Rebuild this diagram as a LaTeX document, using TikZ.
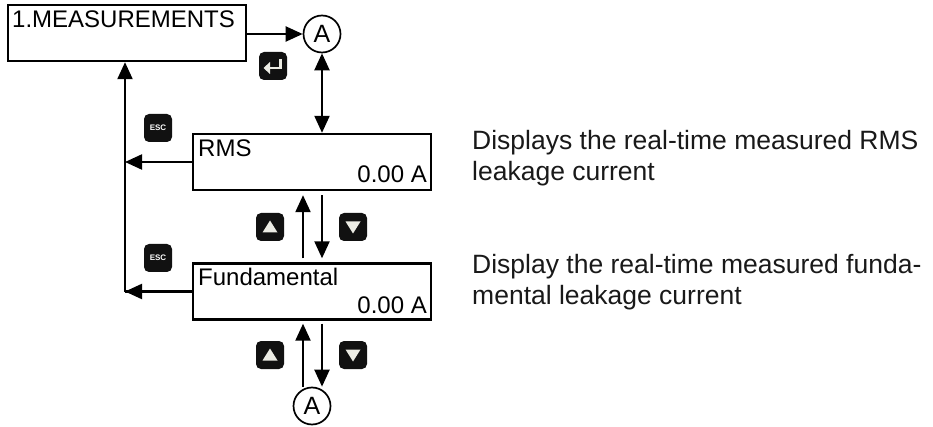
\documentclass[tikz,border=0pt]{standalone}
\usepackage{fontspec}
\setmainfont{Liberation Sans}
\usetikzlibrary{arrows.meta}
\definecolor{glyph}{HTML}{ECECE4}
\definecolor{keycap}{HTML}{111111}
\begin{document}
\begin{tikzpicture}[x=1pt,y=-1pt,
  lcd/.style={draw,line width=2.4pt,minimum width=238pt,minimum height=56pt,inner sep=0pt},
  lcdtext/.style={inner sep=0pt,font=\fontsize{24}{24}\selectfont},
  desc/.style={inner sep=0pt,anchor=base west,font=\fontsize{26.5}{30}\selectfont,text=black!90},
  loopmark/.style={draw,circle,line width=1.7pt,minimum size=37pt,inner sep=0pt,font=\fontsize{25}{25}\selectfont},
  arr/.style={line width=2.2pt,-{Triangle[length=17pt,width=15pt]}},
  arrboth/.style={line width=2.2pt,{Triangle[length=17pt,width=15pt]}-{Triangle[length=17pt,width=15pt]}},
  keybox/.style={fill=keycap,rounded corners=5pt,minimum size=28pt,inner sep=0pt},
  keyglyph/.style={fill=glyph}
]
\useasboundingbox (0,0) rectangle (933,427);

% display frames
\node[lcd] (meas) at (127,33) {};
\node[lcd] (rms) at (312,162) {};
\node[lcd] (fund) at (312,291.5) {};

% display contents
\node[lcdtext,anchor=base west] (measT) at (12,28) {1.MEASUREMENTS};
\node[lcdtext,anchor=base west] (rmsT) at (198,157) {RMS};
\node[lcdtext,anchor=base east] (rmsV) at (427,183) {0.00 A};
\node[lcdtext,anchor=base west] (fundT) at (198,286) {Fundamental};
\node[lcdtext,anchor=base east] (fundV) at (427,313) {0.00 A};

% loop marks
\node[loopmark] (topA) at (322,34) {A};
\node[loopmark] (botA) at (312,406) {A};

% helper coordinates for the vertical connectors
\coordinate (j) at (125,291.5);
\coordinate (cU) at (303,0);
\coordinate (cD) at (322,0);

% connectors
\draw[line width=2.2pt] (fund.west) -- (j);
\draw[arr] (j) -- (j |- meas.south);
\draw[arr] (meas.east |- topA.west) -- (topA.west);
\draw[arrboth] (topA.south) -- (topA.south |- rms.north);
\draw[arr] (rms.west) -- (rms.west -| j);
\draw[arr] (fund.west) -- (j);
\draw[arr,shorten <=4pt,shorten >=4pt] (fund.north -| cU) -- (rms.south -| cU);
\draw[arr,shorten <=4pt,shorten >=4pt] (rms.south -| cD) -- (fund.north -| cD);
\draw[arr,shorten >=3pt] (botA.north -| cU) -- (fund.south -| cU);
\draw[arr,shorten <=3pt] (fund.south -| cD) -- (botA.north -| cD);

% keys
\node[keybox] (enter) at (273,66) {};
\draw[glyph,line width=2.8pt] ([shift={(7.5,-6.5)}]enter.center) -- ([shift={(7.5,2)}]enter.center) -- ([shift={(-3,2)}]enter.center);
\fill[keyglyph,shift={(enter.center)}] (-9.5,2) -- (-3,-4) -- (-3,8) -- cycle;

\node[keybox,font=\fontsize{8}{8}\selectfont\bfseries,text=white] (esc1) at (158,128) {ESC};
\node[keybox,font=\fontsize{8}{8}\selectfont\bfseries,text=white] (esc2) at (158,258) {ESC};

\node[keybox] (up1) at (270,227) {};
\node[keybox] (dn1) at (353,227) {};
\node[keybox] (up2) at (270,355) {};
\node[keybox] (dn2) at (353,355) {};
\fill[keyglyph,shift={(up1.center)}] (-7.5,5.5) -- (7.5,5.5) -- (0,-6.5) -- cycle;
\fill[keyglyph,shift={(up2.center)}] (-7.5,5.5) -- (7.5,5.5) -- (0,-6.5) -- cycle;
\fill[keyglyph,shift={(dn1.center)}] (-7.5,-5.5) -- (7.5,-5.5) -- (0,6.5) -- cycle;
\fill[keyglyph,shift={(dn2.center)}] (-7.5,-5.5) -- (7.5,-5.5) -- (0,6.5) -- cycle;

% descriptions
\node[desc] (d1a) at (472,150) {Displays the real-time measured RMS};
\node[desc] (d1b) at (472,181) {leakage current};
\node[desc] (d2a) at (472,274) {Display the real-time measured funda-};
\node[desc] (d2b) at (472,305) {mental leakage current};
\end{tikzpicture}
\end{document}
